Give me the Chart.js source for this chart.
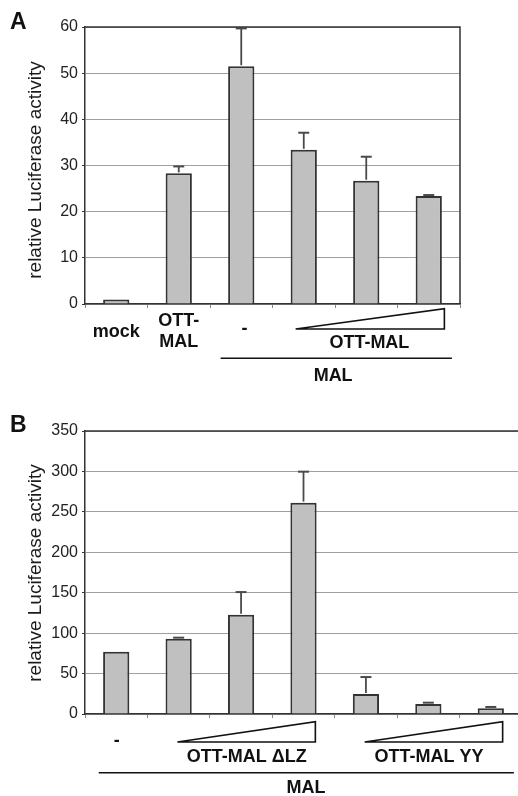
<!DOCTYPE html>
<html><head><meta charset="utf-8">
<script src="https://cdn.jsdelivr.net/npm/chart.js@4"></script>
<style>
html,body{margin:0;padding:0;background:#fff;overflow:hidden;width:518px;height:796px}
#wrap{position:relative;width:518px;height:796px;overflow:hidden;background:#fff}
canvas{position:absolute;left:0}
#cA{top:0}
#cB{top:380px}
</style></head><body>
<div id="wrap"><canvas id="cA" width="518" height="396"></canvas><canvas id="cB" width="524" height="416"></canvas></div>
<script>
// ---- Panel A data ----
const categoriesA = ['mock', 'OTT-MAL', 'MAL', 'MAL + OTT-MAL (low)', 'MAL + OTT-MAL (mid)', 'MAL + OTT-MAL (high)'];
const valuesA = [1.0, 28.3, 51.5, 33.4, 26.7, 23.4];
const errorsA = [0, 1.5, 8.2, 3.7, 5.2, 0.2];
const yTicksA = [0, 10, 20, 30, 40, 50, 60];

// ---- Panel B data ----
const categoriesB = ['MAL', 'MAL + OTT-MAL ΔLZ (low)', 'MAL + OTT-MAL ΔLZ (mid)', 'MAL + OTT-MAL ΔLZ (high)',
                     'MAL + OTT-MAL YY (low)', 'MAL + OTT-MAL YY (mid)', 'MAL + OTT-MAL YY (high)'];
const valuesB = [77, 93, 122.8, 261.4, 24.7, 12.4, 7.0];
const errorsB = [0, 1.4, 28.0, 38.3, 21.0, 1.6, 1.7];
const yTicksB = [0, 50, 100, 150, 200, 250, 300, 350];

const axisTitle = 'relative Luciferase activity';
const FONT = '"Liberation Sans", Arial, sans-serif';

const annotPlugin = {
  id: 'annot',
  afterDatasetsDraw(chart, args, o) {
    const ctx = chart.ctx;
    const ys = chart.scales.y;
    const meta = chart.getDatasetMeta(0);
    const vals = chart.data.datasets[0].data;
    ctx.save();
    // error bars
    o.errors.forEach((e, i) => {
      if (!e) return;
      const x = meta.data[i].x;
      const y0 = ys.getPixelForValue(vals[i]) - 1;
      const y1 = ys.getPixelForValue(vals[i] + e);
      ctx.strokeStyle = '#4a4a4a';
      ctx.lineWidth = 1.8;
      ctx.beginPath(); ctx.moveTo(x, y0); ctx.lineTo(x, y1); ctx.stroke();
      ctx.lineWidth = 2;
      ctx.beginPath(); ctx.moveTo(x - 5.5, y1); ctx.lineTo(x + 5.5, y1); ctx.stroke();
    });
    ctx.restore();
  },
  afterDraw(chart, args, o) {
    const ctx = chart.ctx;
    const xs = chart.scales.x;
    const ca = chart.chartArea;
    ctx.save();
    // box: top & right
    ctx.strokeStyle = '#333';
    ctx.lineWidth = 1.5;
    ctx.beginPath();
    ctx.moveTo(ca.left, ca.top); ctx.lineTo(ca.right, ca.top);
    ctx.lineTo(ca.right, ca.bottom);
    ctx.stroke();
    // triangles
    ctx.strokeStyle = '#111';
    ctx.fillStyle = '#fff';
    o.triangles.forEach(t => {
      const xl = xs.getPixelForValue(t.i0), xr = xs.getPixelForValue(t.i1);
      ctx.beginPath();
      ctx.moveTo(xl, ca.bottom + t.bot);
      ctx.lineTo(xr, ca.bottom + t.top);
      ctx.lineTo(xr, ca.bottom + t.bot);
      ctx.closePath();
      ctx.fill(); ctx.lineWidth = 1.6; ctx.stroke();
    });
    // group lines
    o.lines.forEach(l => {
      ctx.lineWidth = 1.6;
      ctx.beginPath();
      ctx.moveTo(xs.getPixelForValue(l.i0), ca.bottom + l.dy);
      ctx.lineTo(xs.getPixelForValue(l.i1), ca.bottom + l.dy);
      ctx.stroke();
    });
    // labels
    ctx.fillStyle = '#111';
    ctx.font = 'bold 18px ' + FONT;
    ctx.textAlign = 'center';
    ctx.textBaseline = 'alphabetic';
    o.texts.forEach(t => {
      ctx.fillText(t.t, xs.getPixelForValue(t.idx), ca.bottom + t.dy);
    });
    // panel letter
    ctx.font = 'bold 23px ' + FONT;
    ctx.textAlign = 'left';
    ctx.fillText(o.letter, 10, o.letterY);
    // y title
    ctx.font = '19px ' + FONT;
    ctx.fillStyle = '#1a1a1a';
    ctx.textAlign = 'center';
    ctx.textBaseline = 'middle';
    ctx.translate(36, o.titleY);
    ctx.rotate(-Math.PI / 2);
    ctx.fillText(axisTitle, 0, 0);
    ctx.restore();
  }
};

function makeChart(id, cats, vals, errs, yTicks, axisH, pad, annot) {
  return new Chart(document.getElementById(id), {
    type: 'bar',
    data: {
      labels: cats,
      datasets: [{
        data: vals,
        backgroundColor: '#c0c0c0',
        borderColor: '#333',
        borderWidth: 2,
        categoryPercentage: 1.0,
        barPercentage: 0.42
      }]
    },
    options: {
      responsive: false,
      animation: false,
      events: [],
      layout: { padding: pad },
      plugins: { legend: { display: false }, tooltip: { enabled: false }, annot: Object.assign({ errors: errs }, annot) },
      scales: {
        x: {
          grid: { display: true, drawOnChartArea: false, drawTicks: true, tickLength: 4, tickColor: '#888', offset: true },
          border: { display: true, color: '#333', width: 1.5 },
          ticks: { display: false },
          afterFit(s) { s.height = axisH; }
        },
        y: {
          min: yTicks[0], max: yTicks[yTicks.length - 1],
          afterBuildTicks(s) { s.ticks = yTicks.map(v => ({ value: v })); },
          grid: { color: '#a0a0a0', lineWidth: 1, tickLength: 3, tickColor: '#333' },
          border: { display: true, color: '#333', width: 1.5 },
          ticks: { font: { family: FONT, size: 16 }, color: '#222', padding: 4 },
          afterFit(s) { s.width = 85; }
        }
      }
    },
    plugins: [annotPlugin]
  });
}

makeChart('cA', categoriesA, valuesA, errorsA, yTicksA, 92, { top: 27, right: 58, bottom: 0, left: 0 }, {
  letter: 'A', letterY: 28.5, titleY: 170,
  texts: [
    { idx: 0, dy: 32.7, t: 'mock' },
    { idx: 1, dy: 22, t: 'OTT-' },
    { idx: 1, dy: 42.7, t: 'MAL' },
    { idx: 2.05, dy: 29.7, t: '-' },
    { idx: 4.05, dy: 43.7, t: 'OTT-MAL' },
    { idx: 3.47, dy: 76.5, t: 'MAL' }
  ],
  triangles: [{ i0: 2.87, i1: 5.25, top: 4.7, bot: 25 }],
  lines: [{ i0: 1.67, i1: 5.37, dy: 54.3 }]
});

makeChart('cB', categoriesB, valuesB, errorsB, yTicksB, 82, { top: 51, right: 2, bottom: 0, left: 0 }, {
  letter: 'B', letterY: 51.7, titleY: 193,
  texts: [
    { idx: 0.01, dy: 32.3, t: '-' },
    { idx: 2.09, dy: 48, t: 'OTT-MAL ΔLZ' },
    { idx: 5.01, dy: 48, t: 'OTT-MAL YY' },
    { idx: 3.04, dy: 79.3, t: 'MAL' }
  ],
  triangles: [{ i0: 0.98, i1: 3.19, top: 7.7, bot: 28 }, { i0: 3.98, i1: 6.19, top: 7.7, bot: 28 }],
  lines: [{ i0: -0.28, i1: 6.37, dy: 58.7 }]
});
</script>
</body></html>
